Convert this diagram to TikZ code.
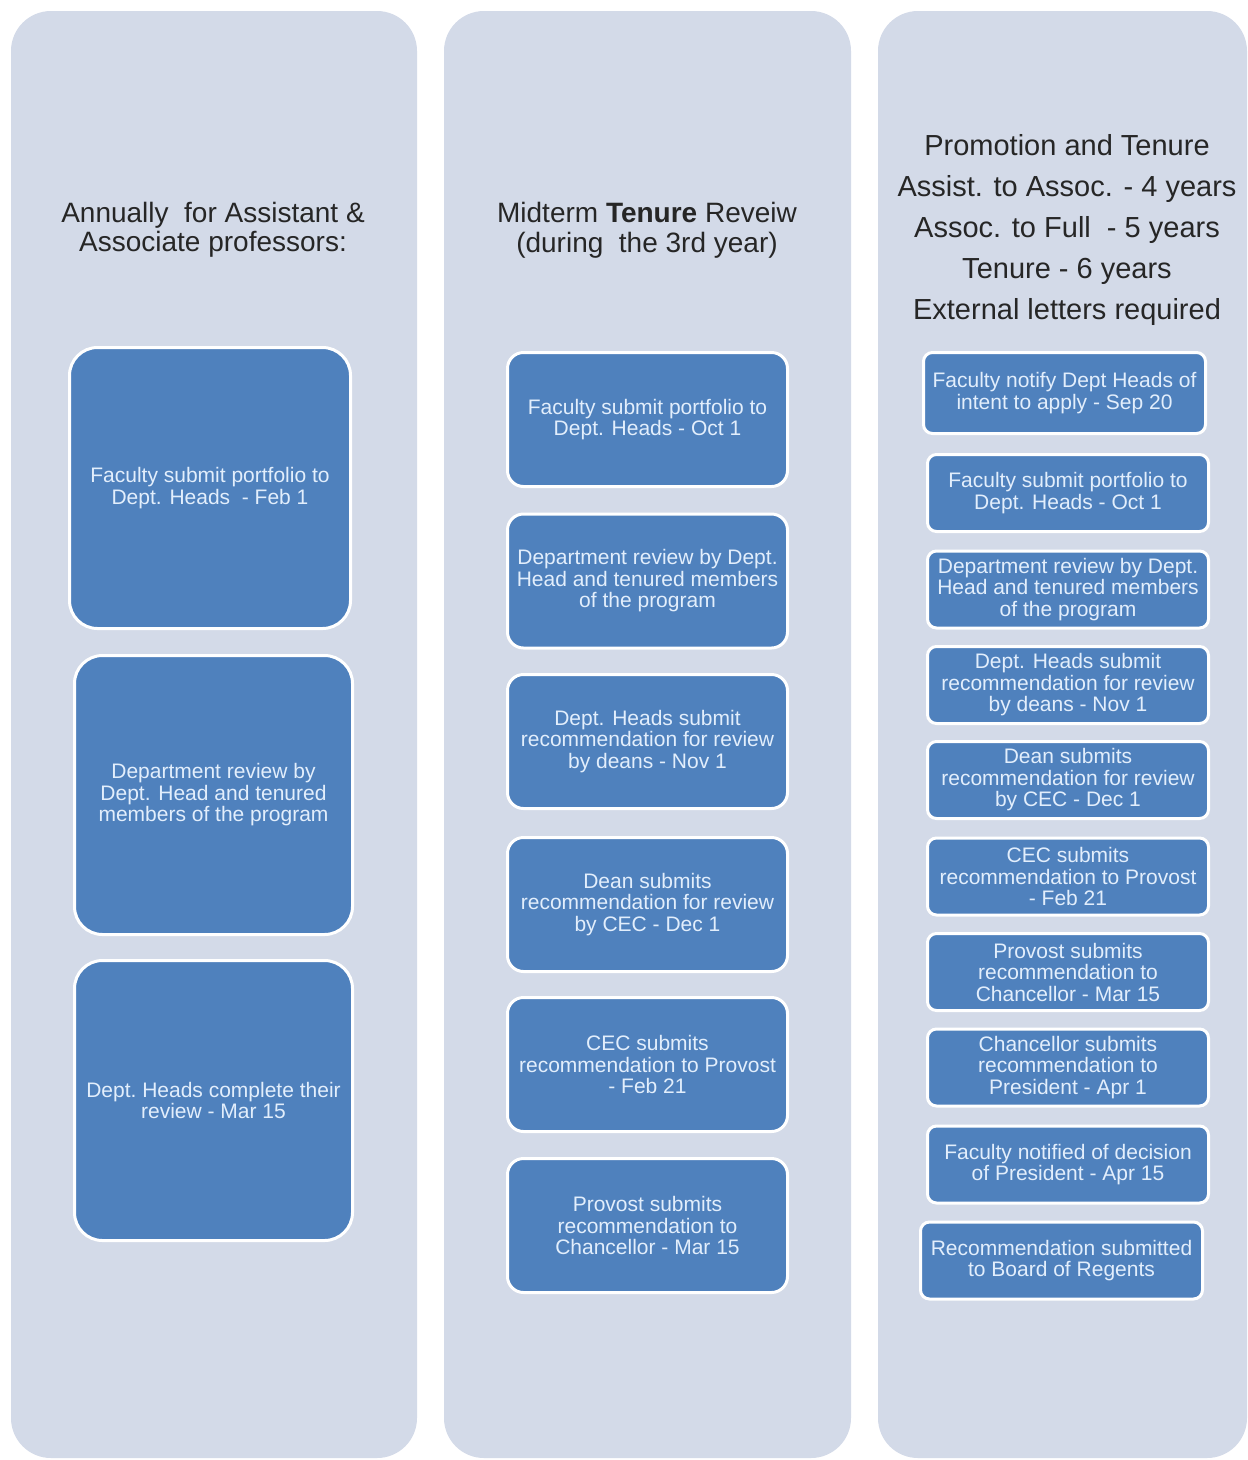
\documentclass[tikz,border=0pt]{standalone}
\usepackage{fontspec}
\setmainfont{Liberation Sans}
\definecolor{colbg}{RGB}{211,218,232}
\definecolor{boxfill}{RGB}{79,129,189}
\definecolor{boxtext}{RGB}{226,238,252}
\definecolor{headtext}{RGB}{38,38,38}
\tikzset{
  colbox/.style={fill=colbg, rounded corners=40pt, inner sep=0pt},
  stepbox/.style={fill=boxfill, draw=white, line width=3pt, text=boxtext,
     align=center, inner sep=0pt, font=\fontsize{21}{21.5}\selectfont},
  bigbox/.style={stepbox, rounded corners=28pt},
  midbox/.style={stepbox, rounded corners=16pt, minimum width=280pt, minimum height=134pt},
  smallbox/.style={stepbox, rounded corners=9pt, minimum width=281pt, minimum height=77pt},
  heading/.style={text=headtext, align=center, inner sep=0pt}
}
\begin{document}
\begin{tikzpicture}[x=1pt,y=-1pt]
\useasboundingbox (0,0) rectangle (1248,1460);
\fill[white] (0,0) rectangle (1248,1460);

% columns
\node[colbox, minimum width=406pt, minimum height=1447pt] (col1) at (214,734.5) {};
\node[colbox, minimum width=407pt, minimum height=1447pt] (col2) at (647.5,734.5) {};
\node[colbox, minimum width=369pt, minimum height=1447pt] (col3) at (1062.5,734.5) {};

% headings
\node[heading, font=\fontsize{28}{29.5}\selectfont] (h1) at (213,230)
  {Annually\ \ for Assistant \&\\Associate professors:};
\node[heading, font=\fontsize{28}{30}\selectfont] (h2) at (647,230)
  {Midterm \textbf{Tenure} Reveiw\\(during\ \ the 3rd year)};
\node[heading, font=\fontsize{29}{41}\selectfont] (h3) at (1067,230)
  {Promotion and Tenure\\Assist. to Assoc. - 4 years\\Assoc. to Full\ \ - 5 years\\Tenure - 6 years\\External letters required};

% column 1
\node[bigbox, minimum width=281pt, minimum height=281pt] (a1) at (210,488)
  {Faculty submit portfolio to\\Dept. Heads\ \ - Feb 1};
\node[bigbox, minimum width=278pt, minimum height=279pt] (a2) at (213.5,795)
  {Department review by\\Dept. Head and tenured\\members of the program};
\node[bigbox, minimum width=278pt, minimum height=280pt] (a3) at (213.5,1100.5)
  {Dept.\ Heads\ complete\ their\\review\ - Mar 15};

% column 2
\node[midbox] (b1) at (647.5,419.5) {Faculty submit portfolio to\\Dept. Heads\ - Oct 1};
\node[midbox] (b2) at (647.5,581) {Department review by Dept.\\Head and tenured members\\of the program};
\node[midbox] (b3) at (647.5,741.5) {Dept. Heads submit\\recommendation\ for review\\by deans - Nov\ 1};
\node[midbox] (b4) at (647.5,904.5) {Dean submits\\recommendation\ for review\\by CEC - Dec 1};
\node[midbox] (b5) at (647.5,1064.5) {CEC submits\\recommendation\ to Provost\\- Feb 21};
\node[midbox] (b6) at (647.5,1225.5) {Provost submits\\recommendation\ to\\Chancellor - Mar 15};

% column 3
\node[smallbox, minimum width=282pt, minimum height=81pt] (c1) at (1064.5,393) {Faculty notify Dept Heads of\\intent to apply - Sep 20};
\node[smallbox] (c2) at (1068,493) {Faculty submit portfolio to\\Dept. Heads - Oct 1};
\node[smallbox] (c3) at (1068,589.5) {Department review by Dept.\\Head and tenured members\\of the program};
\node[smallbox] (c4) at (1068,685) {Dept. Heads submit\\recommendation\ for review\\by deans - Nov 1};
\node[smallbox] (c5) at (1068,780) {Dean submits\\recommendation\ for review\\by CEC - Dec 1};
\node[smallbox] (c6) at (1068,876.5) {CEC submits\\recommendation\ to Provost\\- Feb 21};
\node[smallbox] (c7) at (1068,972) {Provost submits\\recommendation\ to\\Chancellor - Mar 15};
\node[smallbox] (c8) at (1068,1067.5) {Chancellor submits\\recommendation\ to\\President - Apr 1};
\node[smallbox] (c9) at (1068,1164.5) {Faculty notified of decision\\of President - Apr 15};
\node[smallbox, minimum width=282pt] (c10) at (1061.5,1260.5) {Recommendation\ submitted\\to Board of Regents};
\end{tikzpicture}
\end{document}
